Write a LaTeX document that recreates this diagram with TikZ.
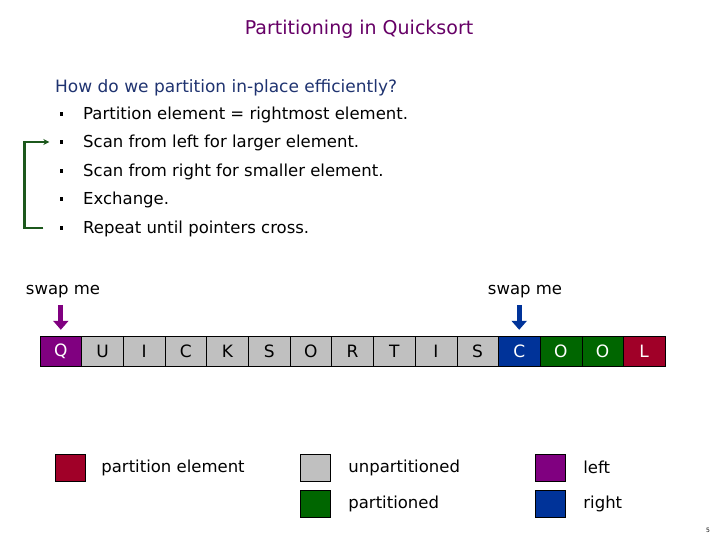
\documentclass[tikz,border=0pt]{standalone}
\usepackage{fontspec}
\setmainfont{DejaVu Sans}
\usetikzlibrary{arrows.meta,positioning}
\definecolor{titlepurple}{RGB}{102,0,102}
\definecolor{asknavy}{RGB}{31,51,112}
\definecolor{leftpurple}{RGB}{128,0,128}
\definecolor{rightblue}{RGB}{0,51,153}
\definecolor{partgreen}{RGB}{0,102,0}
\definecolor{pivotred}{RGB}{160,0,40}
\definecolor{unpartgray}{RGB}{192,192,192}
\definecolor{loopgreen}{RGB}{28,88,28}
\def\cellsep{41.67}

\begin{document}
\begin{tikzpicture}[x=1pt,y=-1pt,node distance=16pt]
		\tikzstyle{body}=[font=\fontsize{16.5}{16.5}\selectfont]
		\tikzstyle{step text}=[body, anchor=west, inner sep=0pt]
		\tikzstyle{bullet}=[fill=black, minimum width=3pt, minimum height=4pt, inner sep=0pt]
		\tikzstyle{cell}=[draw=black, minimum width=41.67pt, minimum height=30pt, inner sep=0pt, font=\fontsize{17}{17}\selectfont]
		\tikzstyle{key}=[draw=black, minimum width=30pt, minimum height=27pt, inner sep=0pt]
		\tikzstyle{key text}=[body, anchor=west, inner sep=0pt]
		\tikzstyle{swap arrow}=[line width=5pt, -{Triangle[width=15pt,length=9pt]}, shorten <=3pt, shorten >=6pt]
		\tikzstyle{loop line}=[loopgreen, line width=2.5pt, -{Stealth[length=6pt,width=6pt]}]
		\useasboundingbox (0,0) rectangle (720,540);
		
		% Title and question
		\node[text=titlepurple, font=\fontsize{19}{19}\selectfont] (title) at (359,29) {Partitioning in Quicksort};
		\node[step text, text=asknavy, font=\fontsize{17}{17}\selectfont] (ask) at (55,88) {How do we partition in-place efficiently?};
		
		% Draw the steps
		\foreach \name / \y / \txt in {1/113/Partition element = rightmost element., 2/141/Scan from left for larger element., 3/170/Scan from right for smaller element., 4/198/Exchange., 5/227/Repeat until pointers cross.}
		{
		\node[bullet] (B-\name) at (61,\y+1) {};
		\node[step text] (S-\name) at (83,\y+1.5) {\txt};
		}
		
		% Loop back from the last step
		\draw[loop line] ([xshift=-16pt]B-5.west) -- ++(-19,0) |- ([xshift=-10pt]B-2.west);
		
		% Draw the array
		\foreach \name / \letter / \shade / \ink in {1/Q/leftpurple/white, 2/U/unpartgray/black, 3/I/unpartgray/black, 4/C/unpartgray/black, 5/K/unpartgray/black, 6/S/unpartgray/black, 7/O/unpartgray/black, 8/R/unpartgray/black, 9/T/unpartgray/black, 10/I/unpartgray/black, 11/S/unpartgray/black, 12/C/rightblue/white, 13/O/partgreen/white, 14/O/partgreen/white, 15/L/pivotred/white}
		\node[cell, fill=\shade, text=\ink] (C-\name) at (40+\cellsep*\name-\cellsep/2,351) {\letter};
		
		% Swap pointers
		\node[body] (swapL) at (63,292) {swap me};
		\node[body] (swapR) at (525,292) {swap me};
		\draw[swap arrow, leftpurple] (C-1.north |- swapL.south) -- (C-1.north);
		\draw[swap arrow, rightblue] (C-12.north |- swapR.south) -- (C-12.north);
		
		% Annotate the colours
		\node[key, fill=pivotred] (K-pivot) at (70,467.5) {};
		\node[key, fill=unpartgray] (K-unpart) at (315,467.5) {};
		\node[key, fill=partgreen] (K-part) at (315,503.5) {};
		\node[key, fill=leftpurple] (K-left) at (550,467.5) {};
		\node[key, fill=rightblue] (K-right) at (550,503.5) {};
		\node[key text, right=16pt of K-pivot] (L-pivot) {partition element};
		\node[key text, right=18pt of K-unpart] (L-unpart) {unpartitioned};
		\node[key text, right=18pt of K-part] (L-part) {partitioned};
		\node[key text, right=18pt of K-left] (L-left) {left};
		\node[key text, right=18pt of K-right] (L-right) {right};
		
		\node[font=\fontsize{6}{6}\selectfont] (page) at (708,530) {5};
	\end{tikzpicture}
\end{document}
